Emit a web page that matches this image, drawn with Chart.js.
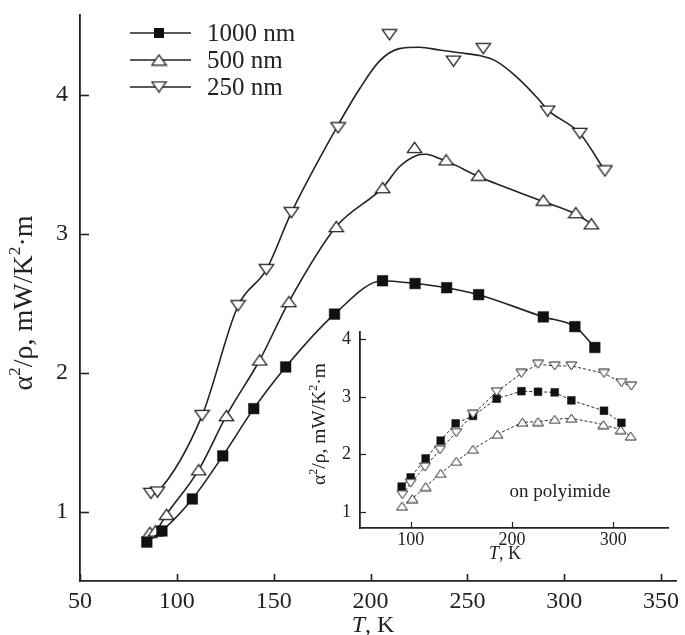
<!DOCTYPE html>
<html><head><meta charset="utf-8">
<script src="https://cdn.jsdelivr.net/npm/chart.js@4.4.1/dist/chart.umd.min.js"></script>
<style>
html,body{margin:0;padding:0;background:#fff;}
#wrap{position:relative;width:685px;height:635px;overflow:hidden;background:#fff;}
#main{position:absolute;left:0;top:0;}
#inset{position:absolute;left:290px;top:320px;}
</style></head><body>
<div id="wrap"><canvas id="main" width="685" height="635"></canvas><canvas id="inset" width="390" height="245"></canvas></div>
<script>
// ---------- main panel data (T in K, alpha^2/rho in mW/K^2 m) ----------
const T_1000 = [84.5, 92.3, 108, 123.7, 139.7, 156.2, 181.4, 206.2, 223, 239.3, 255.8, 289.2, 305.5, 315.8];
const Y_1000 = [0.78, 0.86, 1.09, 1.40, 1.74, 2.04, 2.42, 2.66, 2.64, 2.61, 2.56, 2.40, 2.33, 2.18];
const T_500 = [86.1, 88.9, 94.7, 111.3, 125.6, 142.8, 157.9, 182.3, 206.3, 222.7, 239, 255.8, 289.2, 306, 314];
const Y_500 = [0.85, 0.86, 0.98, 1.30, 1.69, 2.09, 2.51, 3.05, 3.33, 3.62, 3.53, 3.42, 3.24, 3.15, 3.07];
const T_250 = [86.6, 90, 113, 131.6, 146.2, 159.1, 183.2, 209.8, 242.8, 258.2, 291.4, 308.1, 321];
const Y_250 = [1.13, 1.14, 1.69, 2.48, 2.74, 3.15, 3.76, 4.43, 4.24, 4.33, 3.88, 3.72, 3.45];
// smooth guide curves
const FIT_T_500 = [86.1, 88.9, 94.7, 111.3, 125.6, 142.8, 157.9, 182.3, 206.3, 214.9, 223.5, 228.7, 235.6, 241, 255.8, 289.2, 306, 314];
const FIT_Y_500 = [0.85, 0.86, 0.98, 1.30, 1.69, 2.09, 2.51, 3.05, 3.33, 3.48, 3.56, 3.57, 3.54, 3.51, 3.41, 3.23, 3.14, 3.07];
const FIT_T_250 = [86.6, 90, 113, 131.6, 146.2, 159.1, 183.2, 194.3, 204.6, 214.9, 225.3, 235.6, 245.9, 256.2, 264.8, 275.1, 287.1, 291.4, 308.1, 321];
const FIT_Y_250 = [1.12, 1.14, 1.69, 2.48, 2.74, 3.15, 3.78, 4.04, 4.24, 4.33, 4.34, 4.32, 4.30, 4.28, 4.24, 4.13, 3.96, 3.89, 3.72, 3.45];
const MAIN_X_TICKS = [50, 75, 100, 125, 150, 175, 200, 225, 250, 275, 300, 325, 350];
const MAIN_X_LABELS = [50, 100, 150, 200, 250, 300, 350];
const MAIN_Y_TICKS = [0.5, 1, 1.5, 2, 2.5, 3, 3.5, 4, 4.5];
const MAIN_Y_LABELS = [1, 2, 3, 4];
const SERIES_NAMES = ['1000 nm', '500 nm', '250 nm'];

// ---------- inset data (on polyimide) ----------
const IN_T_1000 = [91.1, 100, 114.8, 129.6, 144.4, 161.5, 184.9, 209.3, 225.7, 242.2, 258.6, 290.8, 308];
const IN_Y_1000 = [1.44, 1.60, 1.93, 2.24, 2.54, 2.67, 2.97, 3.10, 3.09, 3.08, 2.94, 2.76, 2.55];
const IN_T_500 = [91.5, 101.7, 114.8, 129.6, 145, 161.5, 185.6, 210.3, 225.7, 242.2, 258.6, 290.2, 307.3, 317.2];
const IN_Y_500 = [1.10, 1.23, 1.44, 1.67, 1.88, 2.09, 2.35, 2.56, 2.57, 2.61, 2.63, 2.52, 2.43, 2.32];
const IN_T_250 = [91.8, 100, 114.1, 128.9, 145, 161.5, 184.9, 209.3, 225.7, 242.2, 258.6, 290.8, 308, 317.7];
const IN_Y_250 = [1.30, 1.50, 1.78, 2.08, 2.38, 2.70, 3.09, 3.41, 3.57, 3.54, 3.54, 3.41, 3.25, 3.19];
const IN_X_TICKS = [100, 150, 200, 250, 300, 350];
const IN_X_LABELS = [100, 200, 300];
const IN_Y_TICKS = [1, 1.5, 2, 2.5, 3, 3.5, 4];
const IN_Y_LABELS = [1, 2, 3, 4];

const INK = '#222';
const FONT = '"Liberation Serif", "DejaVu Serif", serif';
const pts = (xs, ys) => xs.map((x, i) => ({x, y: ys[i]}));

function triCanvas(w, h, down, lw) {
  const c = document.createElement('canvas'); c.width = w; c.height = h;
  const g = c.getContext('2d'); const m = lw;
  g.beginPath();
  if (down) { g.moveTo(m, m); g.lineTo(w - m, m); g.lineTo(w / 2, h - m); }
  else { g.moveTo(m, h - m); g.lineTo(w - m, h - m); g.lineTo(w / 2, m); }
  g.closePath(); g.fillStyle = '#fff'; g.fill(); g.strokeStyle = INK; g.lineWidth = lw; g.lineJoin = 'miter'; g.stroke();
  return c;
}
const UP_BIG = triCanvas(17, 13, false, 1.3), DN_BIG = triCanvas(17, 13, true, 1.3);
const UP_SM = triCanvas(13, 10, false, 1.0), DN_SM = triCanvas(13, 10, true, 1.0);

const inwardTicks = {
  id: 'inwardTicks',
  afterDatasetsDraw(chart, args, o) {
    const {ctx, chartArea: a, scales: {x, y}} = chart;
    ctx.save(); ctx.strokeStyle = INK; ctx.lineWidth = o.w;
    x.ticks.forEach(t => { const p = Math.round(x.getPixelForValue(t.value)) + 0.5; ctx.beginPath(); ctx.moveTo(p, a.bottom); ctx.lineTo(p, a.bottom - o.xl); ctx.stroke(); });
    y.ticks.forEach(t => { const p = Math.round(y.getPixelForValue(t.value)) + 0.5; ctx.beginPath(); ctx.moveTo(a.left, p); ctx.lineTo(a.left + o.yl, p); ctx.stroke(); });
    ctx.restore();
  }
};

function drawYTitle(ctx, cx, cy, size) {
  const segs = [['α', 0], ['2', 1], ['/ρ, mW/K', 0], ['2', 1], ['·m', 0]];
  const f = s => s + 'px ' + FONT;
  ctx.save(); ctx.translate(cx, cy); ctx.rotate(-Math.PI / 2);
  let total = 0;
  const ws = segs.map(([t, sup]) => { ctx.font = f(sup ? size * 0.62 : size); const w = ctx.measureText(t).width; total += w; return w; });
  let x = -total / 2; ctx.textBaseline = 'middle'; ctx.textAlign = 'left'; ctx.fillStyle = INK;
  segs.forEach(([t, sup], i) => { ctx.font = f(sup ? size * 0.62 : size); ctx.fillText(t, x, sup ? -size * 0.33 : 0); x += ws[i]; });
  ctx.restore();
}
function drawTK(ctx, cx, cy, size) {
  ctx.save(); ctx.fillStyle = INK; ctx.textBaseline = 'middle'; ctx.textAlign = 'left';
  ctx.font = 'italic ' + size + 'px ' + FONT; const w1 = ctx.measureText('T').width;
  ctx.font = size + 'px ' + FONT; const w2 = ctx.measureText(', K').width;
  let x = cx - (w1 + w2) / 2;
  ctx.font = 'italic ' + size + 'px ' + FONT; ctx.fillText('T', x, cy);
  ctx.font = size + 'px ' + FONT; ctx.fillText(', K', x + w1, cy);
  ctx.restore();
}

const mainDecor = {
  id: 'mainDecor',
  afterDraw(chart) {
    const ctx = chart.ctx;
    drawTK(ctx, 373, 626, 24);
    drawYTitle(ctx, 25, 303, 28);
    // legend
    const rows = [33, 60, 87];
    ctx.save(); ctx.strokeStyle = INK; ctx.lineWidth = 1.5; ctx.fillStyle = INK;
    rows.forEach((ry, i) => {
      ctx.beginPath(); ctx.moveTo(130, ry); ctx.lineTo(191, ry); ctx.stroke();
      if (i === 0) { ctx.fillStyle = '#111'; ctx.fillRect(154, ry - 5, 10, 10); }
      else { const im = i === 1 ? UP_BIG : DN_BIG; ctx.drawImage(im, 159 - im.width / 2, ry - im.height / 2); }
      ctx.fillStyle = INK; ctx.font = '25px ' + FONT; ctx.textBaseline = 'middle'; ctx.textAlign = 'left';
      ctx.fillText(SERIES_NAMES[i], 207, ry + 1);
    });
    ctx.restore();
  }
};

const insetDecor = {
  id: 'insetDecor',
  afterDraw(chart) {
    const ctx = chart.ctx;
    drawTK(ctx, 215, 234, 18);
    drawYTitle(ctx, 30, 104, 19.5);
    ctx.save(); ctx.fillStyle = INK; ctx.font = '19px ' + FONT; ctx.textAlign = 'center'; ctx.textBaseline = 'middle';
    ctx.fillText('on polyimide', 270, 172); ctx.restore();
  }
};

// gap = distance between axis line and tick labels (reserved as invisible tick length)
function axis(min, max, tickVals, labelVals, size, gap, fit, fitVal) {
  const o = {
    type: 'linear', min, max,
    grid: {display: false, drawTicks: true, tickLength: gap},
    border: {display: true, color: INK, width: 1.8},
    afterBuildTicks: s => { s.ticks = tickVals.map(v => ({value: v})); },
    ticks: {
      autoSkip: false, maxRotation: 0, padding: 0, color: INK,
      font: {family: FONT, size},
      callback: v => labelVals.includes(v) ? String(v) : null
    }
  };
  o.afterFit = s => { s[fit] = fitVal; };
  return o;
}

Chart.defaults.animation = false;

new Chart(document.getElementById('main'), {
  type: 'scatter',
  data: {
    datasets: [
      {label: SERIES_NAMES[0], data: pts(T_1000, Y_1000), showLine: true, cubicInterpolationMode: 'monotone', borderColor: INK, borderWidth: 1.6,
       pointStyle: 'rect', pointRadius: 7.5, pointBackgroundColor: '#111', pointBorderColor: '#111', pointBorderWidth: 0.5, order: 0},
      {label: SERIES_NAMES[1], data: pts(T_500, Y_500), showLine: false, pointStyle: UP_BIG, pointRadius: 8, order: 0},
      {label: SERIES_NAMES[2], data: pts(T_250, Y_250), showLine: false, pointStyle: DN_BIG, pointRadius: 8, order: 0},
      {label: 'fit 500', data: pts(FIT_T_500, FIT_Y_500), showLine: true, cubicInterpolationMode: 'monotone', borderColor: INK, borderWidth: 1.6, pointRadius: 0, order: 5},
      {label: 'fit 250', data: pts(FIT_T_250, FIT_Y_250), showLine: true, cubicInterpolationMode: 'monotone', borderColor: INK, borderWidth: 1.6, pointRadius: 0, order: 5}
    ]
  },
  options: {
    responsive: false, devicePixelRatio: 1, animation: false,
    layout: {padding: {left: 0, right: 8, top: 15, bottom: 0}},
    plugins: {legend: {display: false}, tooltip: {enabled: false}, inwardTicks: {w: 1.6, xl: 7, yl: 9}},
    scales: {
      x: axis(50, 357.7, MAIN_X_TICKS, MAIN_X_LABELS, 24, 6, 'height', 54),
      y: axis(0.5, 4.572, MAIN_Y_TICKS, MAIN_Y_LABELS, 24, 12, 'width', 80)
    }
  },
  plugins: [inwardTicks, mainDecor]
});

new Chart(document.getElementById('inset'), {
  type: 'scatter',
  data: {
    datasets: [
      {label: '250 nm', data: pts(IN_T_250, IN_Y_250), showLine: true, borderColor: '#333', borderWidth: 1, borderDash: [3, 2],
       pointStyle: DN_SM, pointRadius: 6, order: 0},
      {label: '1000 nm', data: pts(IN_T_1000, IN_Y_1000), showLine: true, borderColor: '#333', borderWidth: 1, borderDash: [3, 2],
       pointStyle: 'rect', pointRadius: 5.5, pointBackgroundColor: '#111', pointBorderColor: '#111', pointBorderWidth: 0.5, order: 1},
      {label: '500 nm', data: pts(IN_T_500, IN_Y_500), showLine: true, borderColor: '#333', borderWidth: 1, borderDash: [3, 2],
       pointStyle: UP_SM, pointRadius: 6, order: 2}
    ]
  },
  options: {
    responsive: false, devicePixelRatio: 1, animation: false,
    layout: {padding: {left: 0, right: 12, top: 12, bottom: 0}},
    plugins: {legend: {display: false}, tooltip: {enabled: false}, inwardTicks: {w: 1.2, xl: 6, yl: 6}},
    scales: {
      x: axis(50, 354, IN_X_TICKS, IN_X_LABELS, 18, 1, 'height', 37),
      y: axis(0.72, 4.13, IN_Y_TICKS, IN_Y_LABELS, 18, 9, 'width', 70)
    }
  },
  plugins: [inwardTicks, insetDecor]
});
</script>
</body></html>
